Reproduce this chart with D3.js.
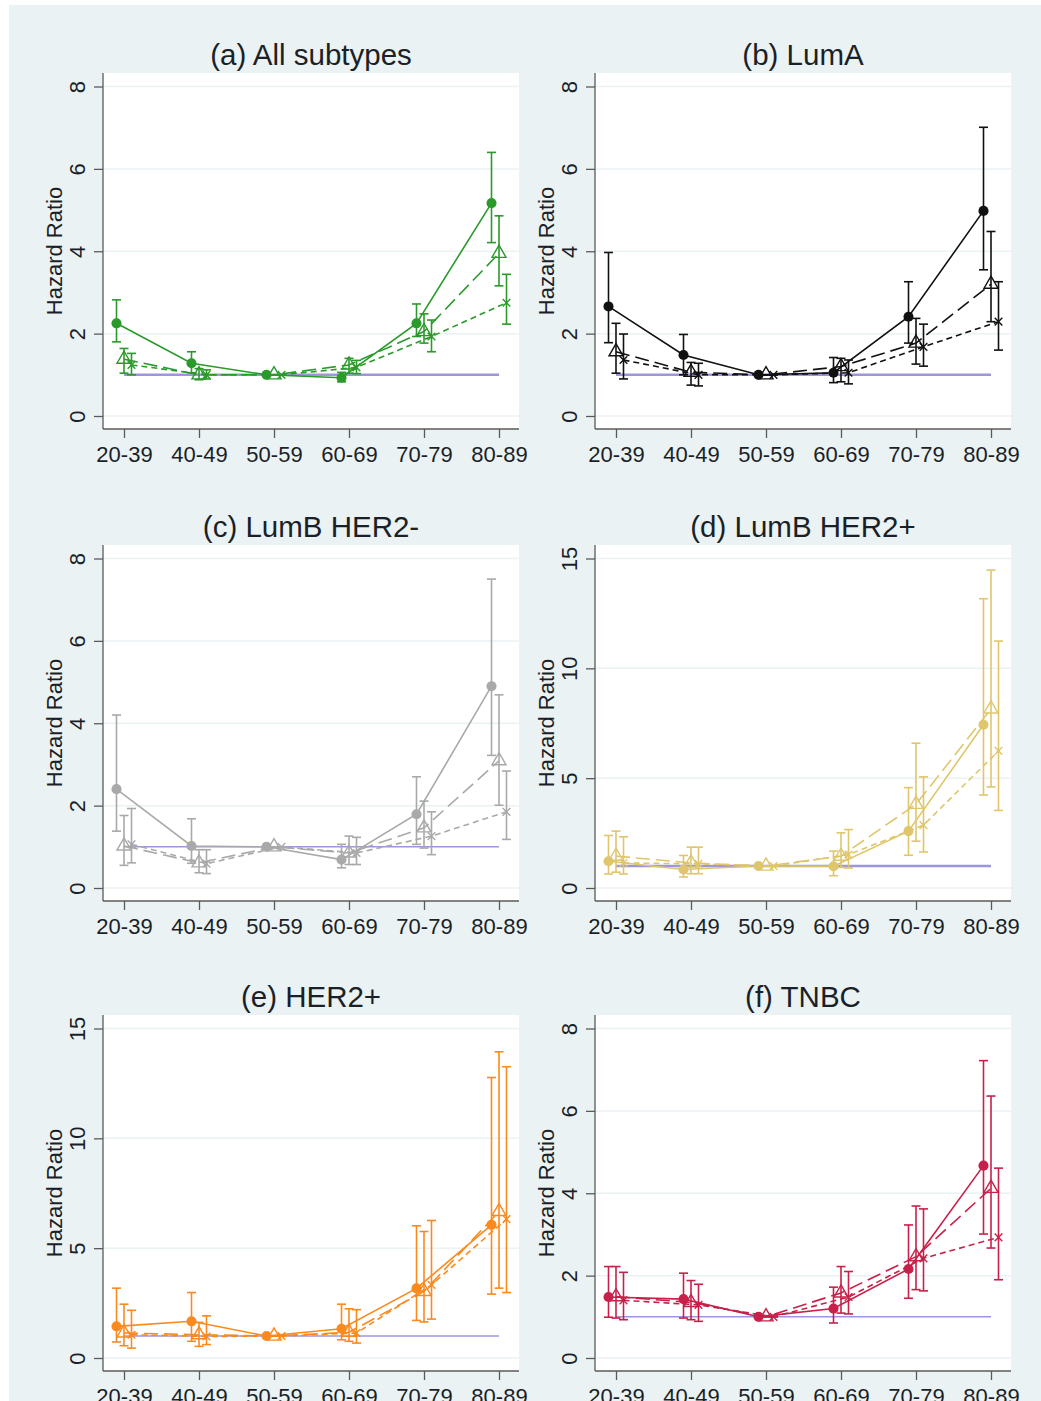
<!DOCTYPE html>
<html>
<head>
  <meta charset="utf-8">
  <title>hazard-ratios</title>
  <style>
    body { margin: 0; background: #fff; }
    text { font-family: Arial, "Liberation Sans", sans-serif; fill: #1b1f27; }
    .axis path { display: none; }
    .axis line { stroke: #5a5a5a; stroke-width: 1.3; }
  </style>
  <script src="https://cdn.jsdelivr.net/npm/d3@7"></script>
</head>
<body>
<script type="text/javascript">

  var ageGroups = ["20-39", "40-49", "50-59", "60-69", "70-79", "80-89"];
  var panelTitles = ["(a) All subtypes", "(b) LumA", "(c) LumB HER2-", "(d) LumB HER2+", "(e) HER2+", "(f) TNBC"];
  var yMax = [8, 8, 8, 15, 15, 8];
  var yTicksSmall = [0, 2, 4, 6, 8];
  var yTicksLarge = [0, 5, 10, 15];
  var panelColors = ["#2a9a2a", "#111111", "#a9a9a9", "#dfc66c", "#fa8a1e", "#c8204a"];
  var refWidths = [2.5, 2.5, 1.5, 2.5, 1.5, 1.5];

  // hazard ratios per panel, one row per model (solid/circle, long dash/triangle, short dash/x)
  var hrA = [[2.25, 1.28, 1, 0.93, 2.25, 5.17], [1.38, 1.0, 1, 1.24, 2.05, 3.95], [1.24, 1.0, 1, 1.18, 1.93, 2.75]];
  var loA = [[1.80, 1.05, 1, 0.83, 1.93, 4.21], [1.04, 0.88, 1, 1.04, 1.77, 3.16], [1.00, 0.90, 1, 1.03, 1.56, 2.23]];
  var hiA = [[2.82, 1.56, 1, 1.06, 2.72, 6.40], [1.64, 1.15, 1, 1.40, 2.48, 4.86], [1.52, 1.12, 1, 1.35, 2.33, 3.44]];

  var hrB = [[2.66, 1.48, 1, 1.05, 2.41, 4.98], [1.56, 1.06, 1, 1.20, 1.77, 3.20], [1.36, 1.0, 1, 1.05, 1.68, 2.29]];
  var loB = [[1.78, 1.00, 1, 0.81, 1.77, 3.55], [1.04, 0.75, 1, 0.83, 1.26, 2.29], [0.90, 0.73, 1, 0.78, 1.21, 1.60]];
  var hiB = [[3.97, 1.98, 1, 1.42, 3.26, 7.01], [2.25, 1.30, 1, 1.40, 2.37, 4.48], [1.99, 1.28, 1, 1.36, 2.23, 3.26]];

  var hrC = [[2.40, 1.02, 1, 0.69, 1.79, 4.90], [1.02, 0.61, 1, 0.85, 1.46, 3.09], [1.06, 0.59, 1, 0.85, 1.26, 1.85]];
  var loC = [[1.38, 0.60, 1, 0.49, 1.06, 3.22], [0.55, 0.37, 1, 0.57, 0.97, 2.01], [0.61, 0.35, 1, 0.57, 0.81, 1.18]];
  var hiC = [[4.20, 1.68, 1, 1.06, 2.70, 7.50], [1.76, 0.93, 1, 1.26, 2.11, 4.69], [1.93, 0.93, 1, 1.23, 1.85, 2.84]];

  var hrD = [[1.22, 0.84, 1, 0.99, 2.59, 7.43], [1.45, 1.14, 1, 1.45, 3.81, 8.15], [1.14, 1.10, 1, 1.52, 2.86, 6.24]];
  var loD = [[0.64, 0.50, 1, 0.56, 1.49, 4.23], [0.72, 0.65, 1, 0.94, 2.13, 4.60], [0.64, 0.65, 1, 0.91, 1.64, 3.53]];
  var hiD = [[2.39, 1.48, 1, 1.68, 4.57, 13.17], [2.59, 1.86, 1, 2.51, 6.59, 14.47], [2.33, 1.86, 1, 2.66, 5.06, 11.24]];

  var hrE = [[1.44, 1.67, 1, 1.33, 3.17, 6.06], [1.14, 1.06, 1, 1.17, 3.03, 6.67], [1.06, 0.98, 1, 1.14, 3.33, 6.32]];
  var loE = [[0.73, 0.76, 1, 0.83, 1.71, 2.91], [0.56, 0.53, 1, 0.76, 1.64, 3.18], [0.45, 0.61, 1, 0.68, 1.77, 2.98]];
  var hiE = [[3.18, 2.98, 1, 2.45, 6.02, 12.77], [2.45, 1.62, 1, 2.24, 5.76, 13.94], [2.17, 1.92, 1, 2.20, 6.26, 13.26]];

  var hrF = [[1.48, 1.43, 1, 1.20, 2.16, 4.67], [1.49, 1.35, 1, 1.58, 2.46, 4.12], [1.40, 1.29, 1, 1.48, 2.42, 2.93]];
  var loF = [[0.99, 0.97, 1, 0.85, 1.45, 3.01], [0.97, 0.93, 1, 1.09, 1.66, 2.67], [0.93, 0.89, 1, 1.07, 1.63, 1.90]];
  var hiF = [[2.22, 2.06, 1, 1.72, 3.23, 7.22], [2.22, 1.88, 1, 2.22, 3.69, 6.36], [2.08, 1.79, 1, 2.10, 3.62, 4.61]];

  var hrAll = [hrA, hrB, hrC, hrD, hrE, hrF];
  var loAll = [loA, loB, loC, loD, loE, loF];
  var hiAll = [hiA, hiB, hiC, hiD, hiE, hiF];

  var plotW = 416, plotH = 356;
  var origins = [[103, 73], [595, 73], [103, 545], [595, 545], [103, 1015], [595, 1015]];
  var dashes = [null, "14,6", "6,4"];

  var svg = d3.select("body").append("svg")
    .attr("width", 1041)
    .attr("height", 1401);

  // graph region
  svg.append("rect")
    .attr("x", 9).attr("y", 5)
    .attr("width", 1032).attr("height", 1396)
    .attr("fill", "#eaf2f3");

  panelTitles.forEach(function(title, p) {
    var g = svg.append("g")
      .attr("transform", "translate(" + origins[p][0] + "," + origins[p][1] + ")");
    var col = panelColors[p];

    var x = d3.scalePoint().domain(ageGroups).range([21, 396]);
    var y = d3.scaleLinear().domain([0, yMax[p]]).range([343, 13.5]);
    var ticks = yMax[p] > 8 ? yTicksLarge : yTicksSmall;

    g.append("rect").attr("width", plotW).attr("height", plotH).attr("fill", "#fff");

    // gridlines
    g.selectAll(".grid").data(ticks).enter().append("line")
      .attr("x1", 0).attr("x2", plotW)
      .attr("y1", function(d) { return y(d); }).attr("y2", function(d) { return y(d); })
      .attr("stroke", "#eaf2f3").attr("stroke-width", 1.5);

    // y axis with vertical labels
    var ya = g.append("g").attr("class", "axis")
      .call(d3.axisLeft(y).tickValues(ticks).tickSize(9).tickSizeOuter(0));
    ya.selectAll("text")
      .attr("x", null).attr("dy", null)
      .attr("text-anchor", "middle")
      .attr("transform", "translate(-18.5,0) rotate(-90)")
      .style("font-size", "22px");

    // x axis
    var xa = g.append("g").attr("class", "axis")
      .attr("transform", "translate(0," + plotH + ")")
      .call(d3.axisBottom(x).tickSize(9).tickSizeOuter(0).tickPadding(8));
    xa.selectAll("text").style("font-size", "22px");

    // axis lines
    g.append("line").attr("x1", 0).attr("x2", 0).attr("y1", 0).attr("y2", plotH)
      .attr("stroke", "#5a5a5a").attr("stroke-width", 1.3);
    g.append("line").attr("x1", 0).attr("x2", plotW).attr("y1", plotH).attr("y2", plotH)
      .attr("stroke", "#5a5a5a").attr("stroke-width", 1.3);

    g.append("text")
      .attr("transform", "translate(-41.5," + (plotH / 2) + ") rotate(-90)")
      .attr("text-anchor", "middle")
      .style("font-size", "22px")
      .text("Hazard Ratio");

    g.append("text")
      .attr("x", plotW / 2).attr("y", -8.5)
      .attr("text-anchor", "middle")
      .style("font-size", "29.5px")
      .text(title);

    // reference line at HR = 1
    g.append("line")
      .attr("x1", x(ageGroups[0])).attr("x2", x(ageGroups[ageGroups.length - 1]))
      .attr("y1", y(1)).attr("y2", y(1))
      .attr("stroke", "#9d96dd").attr("stroke-width", refWidths[p]);

    [0, 1, 2].forEach(function(m) {
      var off = (m - 1) * x.step() * 0.1;
      var hr = hrAll[p][m], lo = loAll[p][m], hi = hiAll[p][m];
      var sg = g.append("g");

      // confidence intervals
      ageGroups.forEach(function(a, i) {
        var cx = x(a) + off;
        sg.append("line").attr("x1", cx).attr("x2", cx)
          .attr("y1", y(lo[i])).attr("y2", y(hi[i]))
          .attr("stroke", col).attr("stroke-width", 1.6);
        [lo[i], hi[i]].forEach(function(v) {
          sg.append("line").attr("x1", cx - 4.5).attr("x2", cx + 4.5)
            .attr("y1", y(v)).attr("y2", y(v))
            .attr("stroke", col).attr("stroke-width", 1.6);
        });
      });

      var line = d3.line()
        .x(function(d, i) { return x(ageGroups[i]) + off; })
        .y(function(d) { return y(d); });
      sg.append("path").datum(hr)
        .attr("d", line)
        .attr("fill", "none")
        .attr("stroke", col).attr("stroke-width", 1.6)
        .attr("stroke-dasharray", dashes[m]);

      var sym = m === 0 ? d3.symbol(d3.symbolCircle, 80)
              : m === 1 ? d3.symbol(d3.symbolTriangle, 85)
              : d3.symbol(d3.symbolX, 40);
      sg.selectAll(".pt").data(hr).enter().append("path")
        .attr("transform", function(d, i) { return "translate(" + (x(ageGroups[i]) + off) + "," + y(d) + ")"; })
        .attr("d", sym)
        .attr("fill", m === 0 ? col : "none")
        .attr("stroke", col).attr("stroke-width", m === 0 ? 0 : 1.4);
    });
  });

</script>
</body>
</html>
